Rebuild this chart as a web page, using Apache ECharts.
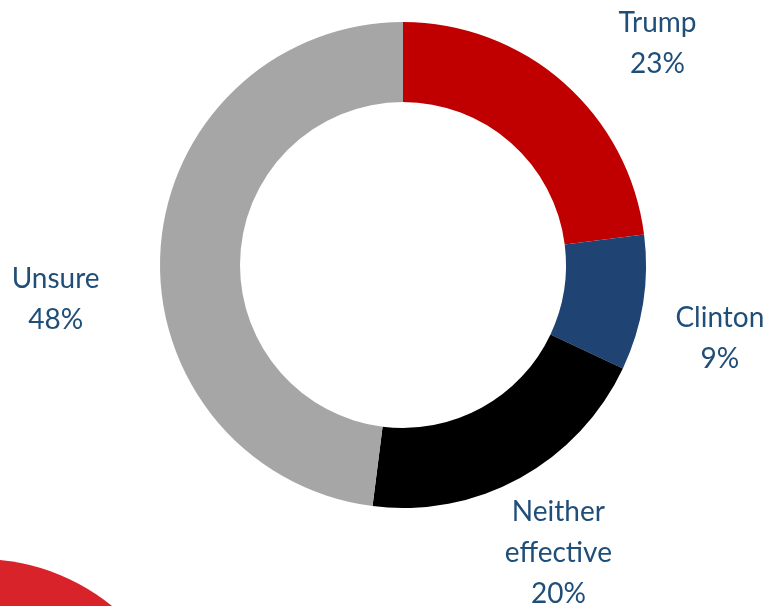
<!DOCTYPE html>
<html>
<head>
<meta charset="utf-8">
<script src="https://cdn.jsdelivr.net/npm/echarts@6/dist/echarts.min.js"></script>
<style>
  html, body { margin: 0; padding: 0; background: #fff; }
  #chart { width: 769px; height: 606px; }
</style>
</head>
<body>
<div id="chart"></div>
<script>
// Survey answer shares (percent)
const categories = ['Trump', 'Clinton', 'Neither\neffective', 'Unsure'];
const shares = [23, 9, 20, 48];
const sliceColors = ['#C00000', '#1F4373', '#000000', '#A6A6A6'];

// Geometry of the ring (pixels)
const CX = 403, CY = 265, R_IN = 163, R_OUT = 243;
const LABEL_R = 335;
// Small per-label nudges so the text blocks sit clear of the ring
const labelNudge = [[33, 30], [-14, 21], [-6, -6], [-13, 56]];

// Mid-angle of each slice, clockwise from 12 o'clock
const total = shares.reduce((a, b) => a + b, 0);
const midAngles = [];
let acc = 0;
shares.forEach(v => {
  midAngles.push(90 - (acc + v / 2) / total * 360);
  acc += v;
});

const chart = echarts.init(document.getElementById('chart'), null, { renderer: 'canvas' });

chart.setOption({
  backgroundColor: '#ffffff',
  animation: false,
  graphic: [{
    type: 'circle',
    shape: { cx: -20, cy: 768, r: 209 },
    style: { fill: '#D9232A' },
    z: -1
  }],
  series: [{
    type: 'pie',
    center: [CX, CY],
    radius: [R_IN, R_OUT],
    startAngle: 90,
    clockwise: true,
    avoidLabelOverlap: false,
    itemStyle: { borderWidth: 0 },
    label: {
      show: true,
      position: 'outside',
      formatter: p => p.name + '\n' + p.value + '%',
      color: '#1F4E79',
      fontFamily: 'Lato',
      fontSize: 28,
      lineHeight: 41,
      align: 'center'
    },
    labelLine: { show: false },
    labelLayout: function (params) {
      const i = params.dataIndex;
      const a = midAngles[i] * Math.PI / 180;
      return {
        x: CX + LABEL_R * Math.cos(a) + labelNudge[i][0],
        y: CY - LABEL_R * Math.sin(a) + labelNudge[i][1],
        align: 'center',
        verticalAlign: 'middle'
      };
    },
    data: categories.map((name, i) => ({
      name: name,
      value: shares[i],
      itemStyle: { color: sliceColors[i] }
    }))
  }]
});
</script>
</body>
</html>
